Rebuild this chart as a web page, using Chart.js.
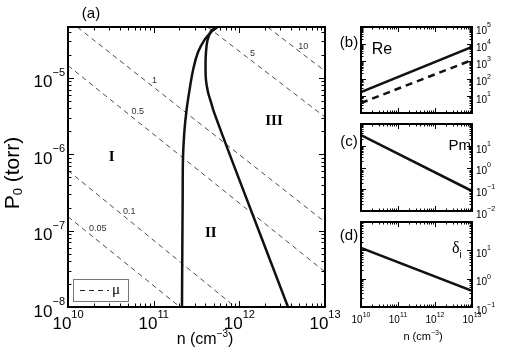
<!DOCTYPE html>
<html>
<head>
<meta charset="utf-8">
<script src="https://cdn.jsdelivr.net/npm/chart.js@4.4.0/dist/chart.umd.min.js"></script>
<style>
  html, body { margin: 0; padding: 0; background: #fff; }
  #wrap { position: relative; width: 531px; height: 353px; }
  #wrap canvas { position: absolute; left: 0; top: 0; }
</style>
</head>
<body>
<div id="wrap">
  <canvas id="pa" width="531" height="353"></canvas>
  <canvas id="pb" width="531" height="353"></canvas>
  <canvas id="pc" width="531" height="353"></canvas>
  <canvas id="pd" width="531" height="353"></canvas>
</div>
<script>
// ---- panel (a): regime map ----
const N_MIN = 1e10, N_MAX = 1e13;
const P_MIN = 1e-8, P_MAX = 4.6e-5;

// boundary I / II
const leftBoundN = [2.14e11, 2.16e11, 2.18e11, 2.20e11, 2.29e11, 2.42e11, 2.62e11, 2.88e11, 3.29e11, 3.97e11, 4.80e11, 5.49e11];
const leftBoundP = [1e-8, 5.56e-8, 2.51e-7, 8.87e-7, 2.06e-6, 3.76e-6, 6.87e-6, 1.25e-5, 2.15e-5, 3.19e-5, 4.05e-5, 4.57e-5];
// boundary II / III
const rightBoundN = [5.49e11, 4.67e11, 4.25e11, 4.08e11, 4.03e11, 4.08e11, 4.31e11, 4.67e11, 5.06e11, 8.43e11, 3.70e12];
const rightBoundP = [4.57e-5, 4.05e-5, 3.09e-5, 2.15e-5, 1.46e-5, 9.27e-6, 6.46e-6, 4.78e-6, 3.54e-6, 7.63e-7, 1e-8];

// mu contours (dashed), start and end of each line
const muLabels = ["0.05", "0.1", "0.5", "1", "5", "10"];
const muStartN = [1e10, 1e10, 1e10, 1.29e10, 4.3e11, 2.15e12];
const muStartP = [1.52e-7, 6.1e-7, 1.44e-5, 4.57e-5, 4.57e-5, 4.57e-5];
const muEndN = [2.03e11, 8.98e11, 1e13, 1e13, 1e13, 1e13];
const muEndP = [1e-8, 1e-8, 2.88e-8, 1.29e-7, 3.05e-6, 1.22e-5];
const muLabelN = [2.22e10, 5.19e10, 6.51e10, 1.02e11, 1.42e12, 5.58e12];
const muLabelP = [1.05e-7, 1.76e-7, 3.65e-6, 9.27e-6, 2.07e-5, 2.53e-5];

const regionLabels = ["I", "II", "III"];
const regionN = [3.24e10, 4.64e11, 2.54e12];
const regionP = [9.2e-7, 9.35e-8, 2.72e-6];

// ---- panels (b)-(d) ----
const smallN = [1e10, 1e13];
const reSolid = [16.6, 6900];
const reDashed = [3.8, 1200];
const pmVals = [31, 0.083];
const deltaVals = [12.1, 0.37];

const SANS = "'Liberation Sans', Arial, Helvetica, sans-serif";
const SERIF = "'Liberation Serif', 'Times New Roman', serif";

function zip(xs, ys) {
  return xs.map((x, i) => ({ x, y: ys[i] }));
}

function tickValues(min, max) {
  const out = [];
  for (let e = Math.floor(Math.log10(min)); e <= Math.ceil(Math.log10(max)); e++) {
    for (let m = 1; m <= 9; m++) {
      const v = m * Math.pow(10, e);
      if (v >= min * 0.999 && v <= max * 1.001) out.push({ v, major: m === 1 });
    }
  }
  return out;
}

function seg(ctx, x1, y1, x2, y2) {
  ctx.beginPath();
  ctx.moveTo(x1, y1);
  ctx.lineTo(x2, y2);
  ctx.stroke();
}

function drawPow(ctx, exp, x, y, align, l) {
  const es = exp < 0 ? "\u2212" + (-exp) : String(exp);
  ctx.font = l.base + "px " + SANS;
  const wb = ctx.measureText("10").width;
  ctx.font = l.sup + "px " + SANS;
  const we = ctx.measureText(es).width;
  const w = wb + we;
  const left = align === "center" ? x - w / 2 : align === "right" ? x - w : x;
  ctx.textAlign = "left";
  ctx.textBaseline = "middle";
  ctx.font = l.base + "px " + SANS;
  ctx.fillText("10", left, y + l.dyBase);
  ctx.font = l.sup + "px " + SANS;
  ctx.fillText(es, left + wb, y + l.dySup);
}

// parts: [text, size, dy, family]
function drawRich(ctx, parts, x, y, align, angle) {
  ctx.save();
  ctx.translate(x, y);
  if (angle) ctx.rotate(angle);
  ctx.textBaseline = "middle";
  ctx.textAlign = "left";
  let total = 0;
  const ws = parts.map(([t, s, dy, f]) => {
    ctx.font = s + "px " + (f || SANS);
    const w = ctx.measureText(t).width;
    total += w;
    return w;
  });
  let cx = align === "center" ? -total / 2 : align === "right" ? -total : 0;
  parts.forEach(([t, s, dy, f], i) => {
    ctx.font = s + "px " + (f || SANS);
    ctx.fillText(t, cx, dy || 0);
    cx += ws[i];
  });
  ctx.restore();
}

const framePlugin = {
  id: "frame",
  afterDatasetsDraw(chart, args, o) {
    const { ctx, chartArea: a, scales } = chart;
    const xs = scales.x, ys = scales.y;
    ctx.save();
    ctx.strokeStyle = "#000";
    ctx.fillStyle = "#000";
    ctx.lineWidth = 1;
    tickValues(xs.min, xs.max).forEach((t) => {
      const px = Math.round(xs.getPixelForValue(t.v)) + 0.5;
      const len = t.major ? o.major : o.minor;
      seg(ctx, px, a.bottom, px, a.bottom - len);
      seg(ctx, px, a.top, px, a.top + len);
    });
    tickValues(ys.min, ys.max).forEach((t) => {
      const py = Math.round(ys.getPixelForValue(t.v)) + 0.5;
      const len = t.major ? o.major : o.minor;
      seg(ctx, a.left, py, a.left + len, py);
      seg(ctx, a.right, py, a.right - len, py);
    });
    ctx.lineWidth = o.border;
    ctx.strokeRect(a.left, a.top, a.right - a.left, a.bottom - a.top);

    if (o.xl) {
      o.xl.exps.forEach((e) => {
        drawPow(ctx, e, xs.getPixelForValue(Math.pow(10, e)), a.bottom, "center", o.xl);
      });
    }
    if (o.yl) {
      o.yl.exps.forEach((e) => {
        const py = ys.getPixelForValue(Math.pow(10, e));
        if (o.yl.side === "left") drawPow(ctx, e, a.left - o.yl.off, py, "right", o.yl);
        else drawPow(ctx, e, a.right + o.yl.off, py, "left", o.yl);
      });
    }
    (o.notes || []).forEach((n) => {
      ctx.fillStyle = n.color || "#000";
      const x = n.n !== undefined ? xs.getPixelForValue(n.n) : n.px;
      const y = n.p !== undefined ? ys.getPixelForValue(n.p) : n.py;
      drawRich(ctx, n.parts, x, y, n.align || "center", n.angle || 0);
    });
    if (o.extra) o.extra(ctx, a, xs, ys);
    ctx.restore();
  },
};

function baseOptions(pad, ymin, ymax, frame) {
  return {
    responsive: false,
    animation: false,
    layout: { padding: pad },
    elements: { point: { radius: 0 } },
    scales: {
      x: { type: "logarithmic", min: N_MIN, max: N_MAX, display: false },
      y: { type: "logarithmic", min: ymin, max: ymax, display: false },
    },
    plugins: { legend: { display: false }, tooltip: { enabled: false }, frame },
  };
}

// ---------- panel (a) ----------
const muDatasets = muLabels.map((lab, i) => ({
  label: "mu " + lab,
  data: [
    { x: muStartN[i], y: muStartP[i] },
    { x: muEndN[i], y: muEndP[i] },
  ],
  borderColor: "#4a4a4a",
  borderWidth: 1,
  borderDash: [5, 4],
  order: 2,
}));

const aNotes = [
  ...muLabels.map((lab, i) => ({ parts: [[lab, 9]], n: muLabelN[i], p: muLabelP[i], color: "#333" })),
  ...regionLabels.map((lab, i) => ({ parts: [[lab, "bold 15", 0, SERIF]], n: regionN[i], p: regionP[i] })),
  { parts: [["(a)", 15]], px: 91, py: 14 },
  { parts: [["n (cm", 16], ["\u22123", 10, -6], [")", 16]], px: 205, py: 340 },
  { parts: [["P", 21], ["0", 13, 5], [" (torr)", 21]], px: 13, py: 173, angle: -Math.PI / 2 },
];

new Chart(document.getElementById("pa"), {
  type: "line",
  data: {
    datasets: [
      ...muDatasets,
      { label: "I/II", data: zip(leftBoundN, leftBoundP), borderColor: "#111", borderWidth: 2.5, tension: 0.4, order: 1 },
      { label: "II/III", data: zip(rightBoundN, rightBoundP), borderColor: "#111", borderWidth: 2.5, tension: 0.35, order: 1 },
    ],
  },
  options: baseOptions({ left: 68, top: 27, right: 206, bottom: 46 }, P_MIN, P_MAX, {
    border: 2, major: 6, minor: 3.5,
    xl: { exps: [10, 11, 12, 13], base: 17, sup: 11, dyBase: 17, dySup: 8 },
    yl: { exps: [-8, -7, -6, -5], side: "left", base: 17, sup: 11, off: 3, dyBase: 5, dySup: -5 },
    notes: aNotes,
    extra(ctx) {
      // legend box
      ctx.strokeStyle = "#777";
      ctx.lineWidth = 1;
      ctx.strokeRect(73.5, 279.5, 55, 22);
      ctx.strokeStyle = "#222";
      ctx.setLineDash([5, 4]);
      seg(ctx, 80, 290.5, 109, 290.5);
      ctx.setLineDash([]);
      ctx.fillStyle = "#000";
      drawRich(ctx, [["\u03bc", 15, 0, SERIF]], 112, 290, "left", 0);
    },
  }),
  plugins: [framePlugin],
});

// ---------- panel (b) ----------
new Chart(document.getElementById("pb"), {
  type: "line",
  data: {
    datasets: [
      { label: "Re", data: zip(smallN, reSolid), borderColor: "#111", borderWidth: 2.5 },
      { label: "Re dashed", data: zip(smallN, reDashed), borderColor: "#111", borderWidth: 2.5, borderDash: [7, 5] },
    ],
  },
  options: baseOptions({ left: 361, top: 27, right: 59, bottom: 240 }, 1, 1e5, {
    border: 2, major: 5, minor: 2.5,
    yl: { exps: [1, 2, 3, 4, 5], side: "right", base: 10, sup: 7, off: 4, dyBase: 4, dySup: -2 },
    notes: [
      { parts: [["(b)", 15]], px: 349, py: 43 },
      { parts: [["Re", 16]], px: 382, py: 50 },
    ],
  }),
  plugins: [framePlugin],
});

// ---------- panel (c) ----------
new Chart(document.getElementById("pc"), {
  type: "line",
  data: {
    datasets: [{ label: "Pm", data: zip(smallN, pmVals), borderColor: "#111", borderWidth: 2.5 }],
  },
  options: baseOptions({ left: 361, top: 124, right: 59, bottom: 142 }, 1e-2, 1e2, {
    border: 2, major: 5, minor: 2.5,
    yl: { exps: [-2, -1, 0, 1], side: "right", base: 10, sup: 7, off: 4, dyBase: 4, dySup: -2 },
    notes: [
      { parts: [["(c)", 15]], px: 349, py: 142 },
      { parts: [["Pm", 15]], px: 471, py: 146, align: "right" },
    ],
  }),
  plugins: [framePlugin],
});

// ---------- panel (d) ----------
new Chart(document.getElementById("pd"), {
  type: "line",
  data: {
    datasets: [{ label: "delta_i", data: zip(smallN, deltaVals), borderColor: "#111", borderWidth: 2.5 }],
  },
  options: baseOptions({ left: 361, top: 222, right: 59, bottom: 46 }, 1e-1, 1e2, {
    border: 2, major: 5, minor: 2.5,
    xl: { exps: [10, 11, 12, 13], base: 10, sup: 7, dyBase: 13, dySup: 8 },
    yl: { exps: [-1, 0, 1], side: "right", base: 10, sup: 7, off: 4, dyBase: 4, dySup: -2 },
    notes: [
      { parts: [["(d)", 15]], px: 349, py: 236 },
      { parts: [["\u03b4", 16, 0, SERIF], ["i", 10, 6]], px: 452, py: 249, align: "left" },
      { parts: [["n (cm", 11], ["\u22123", 7, -4], [")", 11]], px: 423, py: 337 },
    ],
  }),
  plugins: [framePlugin],
});
</script>
</body>
</html>
